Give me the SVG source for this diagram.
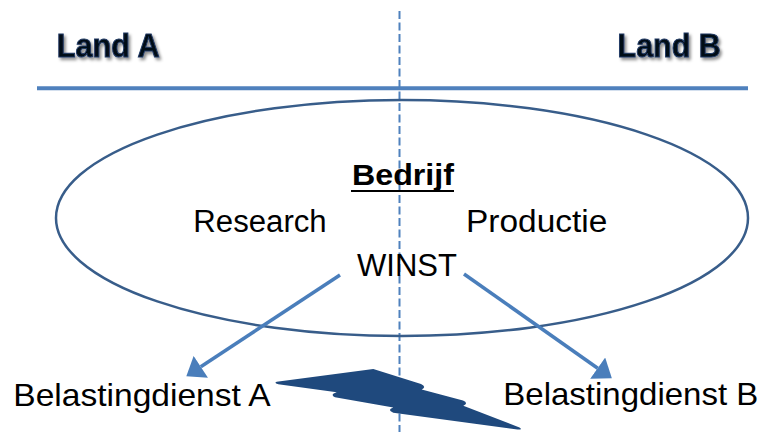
<svg xmlns="http://www.w3.org/2000/svg" width="763" height="432" viewBox="0 0 763 432">
  <style>
    .t { font-family: "Liberation Sans", Arial, sans-serif; fill: #000; }
    .land { font-family: "Liberation Sans", Arial, sans-serif; font-weight: bold; font-size: 33px; fill: #050c18; stroke: #1f3a64; stroke-width: 1; }
    .arrow { stroke: #4a7ebb; stroke-width: 3.5; fill: none; }
  </style>
  <defs>
    <filter id="sh" x="-10%" y="-30%" width="130%" height="170%">
      <feDropShadow dx="2" dy="2.5" stdDeviation="1.6" flood-color="#000" flood-opacity="0.45"/>
    </filter>
    <marker id="ah" markerUnits="userSpaceOnUse" markerWidth="18" markerHeight="26" refX="0" refY="12" orient="auto" viewBox="0 0 16 24">
      <path d="M0,0 L16,12 L0,24 Z" fill="#4a7ebb"/>
    </marker>
  </defs>

  <g id="countries">
    <text class="land" x="56.7" y="57.3" textLength="103" lengthAdjust="spacingAndGlyphs" filter="url(#sh)">Land A</text>
    <text class="land" x="617.6" y="57.3" textLength="103" lengthAdjust="spacingAndGlyphs" filter="url(#sh)">Land B</text>
    <line x1="37" y1="88.3" x2="748" y2="88.3" stroke="#4f81bd" stroke-width="4"/>
  </g>

  <g id="border">
    <line x1="399.5" y1="11" x2="399.5" y2="432" stroke="#4f81bd" stroke-width="2" stroke-dasharray="8,3.5"/>
  </g>

  <g id="bedrijf">
    <ellipse cx="402" cy="218" rx="346" ry="118" fill="none" stroke="#385d8a" stroke-width="2.5"/>
    <text class="t" x="352" y="185" font-size="30" font-weight="bold" textLength="102" lengthAdjust="spacingAndGlyphs">Bedrijf</text>
    <line x1="351" y1="191" x2="454" y2="191" stroke="#000" stroke-width="2.2"/>
    <text class="t" x="193.3" y="232" font-size="31" textLength="133.4" lengthAdjust="spacingAndGlyphs">Research</text>
    <text class="t" x="466" y="232" font-size="31" textLength="141.3" lengthAdjust="spacingAndGlyphs">Productie</text>
    <text class="t" x="357" y="276" font-size="31" textLength="100" lengthAdjust="spacingAndGlyphs">WINST</text>
  </g>

  <g id="belastingdienst-a">
    <text class="t" x="13.3" y="405.5" font-size="32" textLength="257.4" lengthAdjust="spacingAndGlyphs">Belastingdienst A</text>
  </g>

  <g id="belastingdienst-b">
    <text class="t" x="503.3" y="405" font-size="32" textLength="255" lengthAdjust="spacingAndGlyphs">Belastingdienst B</text>
  </g>

  <g id="connectors">
    <line class="arrow" x1="340" y1="275" x2="200.8" y2="366.8" marker-end="url(#ah)"/>
    <line class="arrow" x1="464" y1="274" x2="597.7" y2="368.2" marker-end="url(#ah)"/>
  </g>

  <g id="conflict">
    <path d="M276.7,381.7 L373.3,369 L421,384 Q427,387 421.7,389.5 L463,400.5 Q469,403 463.3,405.8 L519.5,427.5 Q523,430 517.5,429.5 L393.3,412.7 Q386.5,410 393.3,407.5 L335,397.3 Q329.5,394.5 336.7,392.3 L278.3,384.3 Q273.5,383 276.7,381.7 Z" fill="#1f497d"/>
  </g>
</svg>
